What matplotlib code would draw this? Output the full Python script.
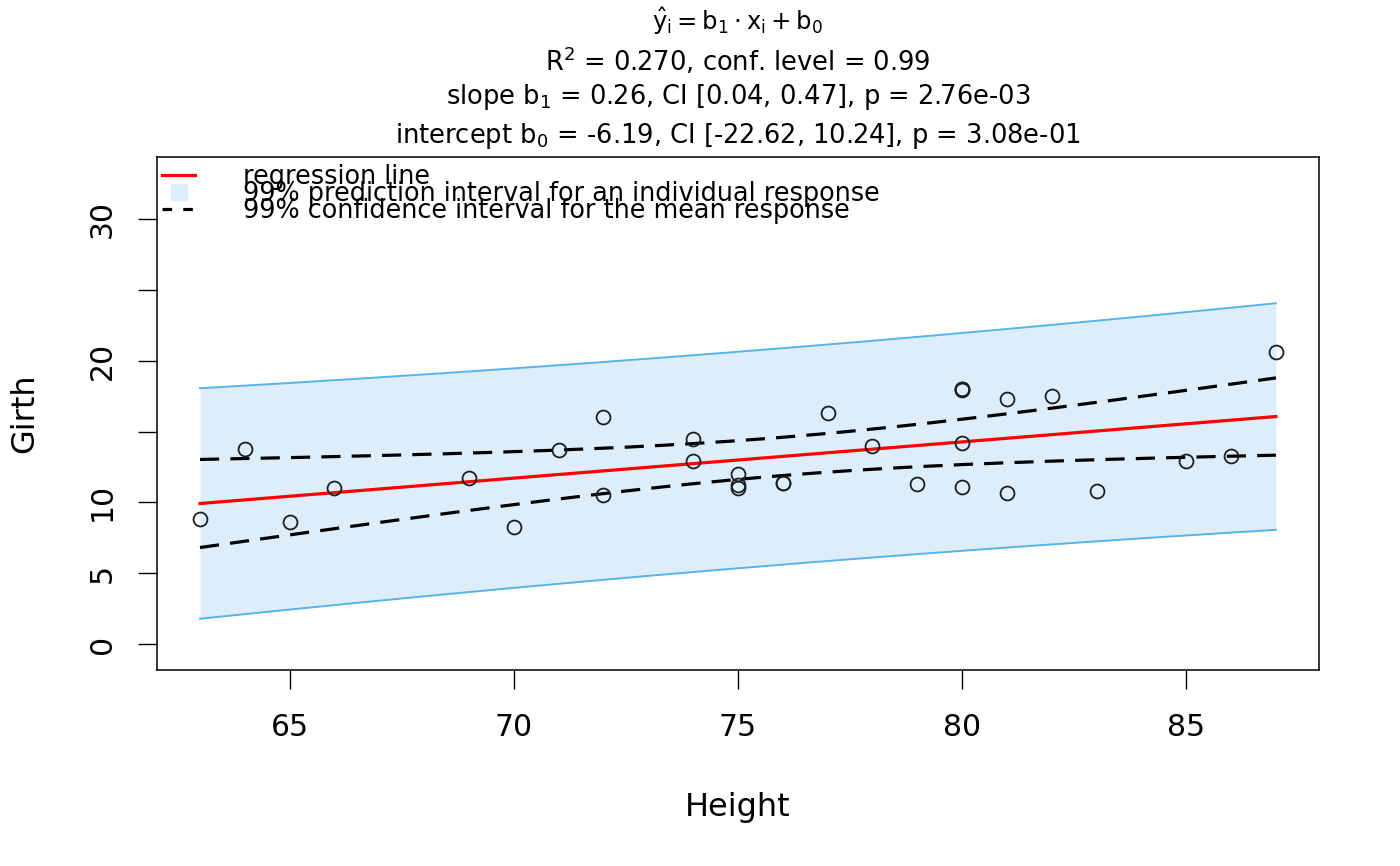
import numpy as np
import matplotlib.pyplot as plt
from matplotlib.lines import Line2D

# trees data (R datasets): Height vs Girth
height = [70, 65, 63, 72, 81, 83, 66, 75, 80, 75, 79, 76, 76, 69, 75, 74,
          85, 86, 71, 64, 78, 80, 74, 72, 77, 81, 82, 80, 80, 80, 87]
girth = [8.3, 8.6, 8.8, 10.5, 10.7, 10.8, 11.0, 11.0, 11.1, 11.2, 11.3,
         11.4, 11.4, 11.7, 12.0, 12.9, 12.9, 13.3, 13.7, 13.8, 14.0, 14.2,
         14.5, 16.0, 16.3, 17.3, 17.5, 17.9, 18.0, 18.0, 20.6]

x_ticks = [65, 70, 75, 80, 85]
y_ticks = [0, 5, 10, 15, 20, 25, 30]
y_tick_labels = ["0", "5", "10", "", "20", "", "30"]
T_CRIT = 2.756  # qt(0.995, df = 29)

title_lines = [
    r"$\hat{\mathrm{y}}_\mathrm{i} = \mathrm{b}_1 \cdot \mathrm{x}_\mathrm{i} + \mathrm{b}_0$",
    r"R$^2$ = 0.270, conf. level = 0.99",
    r"slope b$_1$ = 0.26, CI [0.04, 0.47], p = 2.76e-03",
    r"intercept b$_0$ = -6.19, CI [-22.62, 10.24], p = 3.08e-01",
]

x = np.array(height, dtype=float)
y = np.array(girth, dtype=float)
n = len(x)
b1, b0 = np.polyfit(x, y, 1)
resid = y - (b0 + b1 * x)
s = np.sqrt(np.sum(resid ** 2) / (n - 2))
sxx = np.sum((x - x.mean()) ** 2)

xs = np.linspace(x.min(), x.max(), 200)
fit = b0 + b1 * xs
se_mean = s * np.sqrt(1 / n + (xs - x.mean()) ** 2 / sxx)
se_pred = s * np.sqrt(1 + 1 / n + (xs - x.mean()) ** 2 / sxx)

plt.rcParams["font.family"] = "DejaVu Sans"
plt.rcParams["mathtext.fontset"] = "dejavusans"

fig = plt.figure(figsize=(14, 8.66), dpi=100)
ax = fig.add_axes([0.1121, 0.2263, 0.83, 0.5924])

ax.fill_between(xs, fit - T_CRIT * se_pred, fit + T_CRIT * se_pred,
                color="#ddeefa", linewidth=0, zorder=1)
ax.plot(xs, fit + T_CRIT * se_pred, color="#56b4e9", lw=1.4, zorder=2)
ax.plot(xs, fit - T_CRIT * se_pred, color="#56b4e9", lw=1.4, zorder=2)
ax.plot(xs, fit, color="red", lw=2.3, zorder=3)
ax.plot(xs, fit + T_CRIT * se_mean, color="black", lw=2.3,
        dashes=(6, 3.5), zorder=3)
ax.plot(xs, fit - T_CRIT * se_mean, color="black", lw=2.3,
        dashes=(6, 3.5), zorder=3)
ax.plot(x, y, "o", mfc="none", mec="#1a1f24", ms=10, mew=1.3, zorder=4)

ax.set_xlim(62.04, 87.96)
ax.set_ylim(-1.83, 34.38)
ax.set_xticks(x_ticks)
ax.set_yticks(y_ticks)
ax.set_yticklabels(y_tick_labels, rotation=90, va="center")
ax.tick_params(direction="out", length=14, width=1.0, labelsize=21.5, pad=17)
ax.tick_params(axis="y", pad=15)
for sp in ax.spines.values():
    sp.set_linewidth(1.1)

ax.set_xlabel("Height", fontsize=23, labelpad=36)
ax.set_ylabel("Girth", fontsize=23, labelpad=34)

ys = [0.976, 0.929, 0.888, 0.843]
sizes = [17.5, 18.5, 18.5, 18.5]
for line, yy, fs in zip(title_lines, ys, sizes):
    fig.text(0.527, yy, line, ha="center", va="center", fontsize=fs)

handles = [
    Line2D([], [], color="red", lw=2.3),
    Line2D([], [], marker="s", ls="none", ms=12, mfc="#ddeefa", mec="#ddeefa"),
    Line2D([], [], color="black", lw=2.3, dashes=(3, 3.5)),
]
labels = ["regression line",
          "99% prediction interval for an individual response",
          "99% confidence interval for the mean response"]
ax.legend(handles, labels, loc="upper left", bbox_to_anchor=(0, 0.997),
          frameon=False, fontsize=18.4, labelspacing=-0.355, handlelength=1.3,
          handletextpad=1.85, borderaxespad=0, borderpad=0.2)

fig.savefig("out.png", dpi=100)
